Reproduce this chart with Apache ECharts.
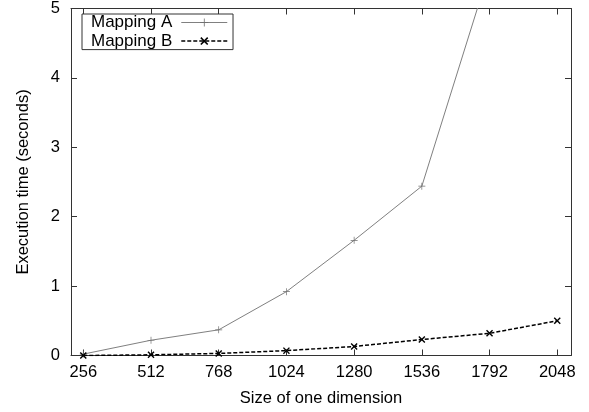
<!DOCTYPE html>
<html>
<head>
<meta charset="utf-8">
<script src="https://cdn.jsdelivr.net/npm/echarts@6/dist/echarts.min.js"></script>
<style>
html,body{margin:0;padding:0;background:#fff;}
#c{width:589px;height:412px;}
</style>
</head>
<body>
<div id="c"></div>
<script>
const sizes = [256, 512, 768, 1024, 1280, 1536, 1792, 2048];
const mappingA = [0.02, 0.22, 0.37, 0.92, 1.66, 2.44, 5.56];
const mappingB = [0.00, 0.01, 0.03, 0.07, 0.13, 0.23, 0.32, 0.50];
const yTicks = [0, 1, 2, 3, 4, 5];

const FONT = 'Liberation Sans, Arial, Helvetica, sans-serif';
const plusPath = 'path://M4.5,0 L5.5,0 L5.5,4.5 L10,4.5 L10,5.5 L5.5,5.5 L5.5,10 L4.5,10 L4.5,5.5 L0,5.5 L0,4.5 L4.5,4.5 Z';
const crossPath = 'path://M0,1.4 L1.4,0 L5,3.6 L8.6,0 L10,1.4 L6.4,5 L10,8.6 L8.6,10 L5,6.4 L1.4,10 L0,8.6 L3.6,5 Z';

const chart = echarts.init(document.getElementById('c'), null, {renderer: 'canvas'});
const frame = '#333';
const tickStyle = {show: true, inside: true, length: 6, lineStyle: {color: frame, width: 1}};
chart.setOption({
  animation: false,
  backgroundColor: '#fff',
  grid: {left: 71, right: 18, top: 8.5, bottom: 56.5, show: false},
  legend: {
    left: 82, top: 14, orient: 'vertical', align: 'right',
    padding: [0, 5, 0, 9], itemGap: 1.6, itemWidth: 46, itemHeight: 10,
    borderColor: frame, borderWidth: 1, backgroundColor: '#fff',
    textStyle: {fontFamily: FONT, fontSize: 17, color: '#000', lineHeight: 16, padding: [0, 4, 0, 0]},
    data: [
      {name: 'Mapping A', lineStyle: {width: 1, color: '#808080'}},
      {name: 'Mapping B', lineStyle: {width: 1.5, color: '#000', type: [4, 2]}}
    ]
  },
  xAxis: [{
    type: 'value', min: 209.5, max: 2100, position: 'bottom',
    name: 'Size of one dimension', nameLocation: 'middle', nameGap: 34,
    nameTextStyle: {fontFamily: FONT, fontSize: 16.5, color: '#000'},
    axisLine: {show: true, onZero: false, lineStyle: {color: frame, width: 1}},
    axisTick: Object.assign({customValues: sizes}, tickStyle),
    axisLabel: {customValues: sizes, formatter: v => String(v), fontFamily: FONT, fontSize: 16.5, color: '#000', margin: 8},
    splitLine: {show: false}
  }, {
    type: 'value', min: 209.5, max: 2100, position: 'top',
    axisLine: {show: true, onZero: false, lineStyle: {color: frame, width: 1}},
    axisTick: Object.assign({customValues: sizes}, tickStyle),
    axisLabel: {show: false, customValues: sizes},
    splitLine: {show: false}
  }],
  yAxis: [{
    type: 'value', min: 0, max: 5, interval: 1, position: 'left',
    name: 'Execution time (seconds)', nameLocation: 'middle', nameGap: 39,
    nameTextStyle: {fontFamily: FONT, fontSize: 16.5, color: '#000'},
    axisLine: {show: true, onZero: false, lineStyle: {color: frame, width: 1}},
    axisTick: tickStyle,
    axisLabel: {fontFamily: FONT, fontSize: 16.5, color: '#000', margin: 11},
    splitLine: {show: false}
  }, {
    type: 'value', min: 0, max: 5, interval: 1, position: 'right',
    axisLine: {show: true, onZero: false, lineStyle: {color: frame, width: 1}},
    axisTick: tickStyle,
    axisLabel: {show: false},
    splitLine: {show: false}
  }],
  series: [{
    name: 'Mapping A', type: 'line', xAxisIndex: 0, yAxisIndex: 0,
    data: mappingA.map((v, i) => [sizes[i], v]),
    symbol: plusPath, symbolSize: 7, clip: true,
    lineStyle: {color: '#808080', width: 1},
    itemStyle: {color: '#707070'}
  }, {
    name: 'Mapping B', type: 'line', xAxisIndex: 0, yAxisIndex: 0,
    data: mappingB.map((v, i) => [sizes[i], v]),
    symbol: crossPath, symbolSize: 7, clip: true,
    lineStyle: {color: '#000', width: 1.5, type: [4, 2]},
    itemStyle: {color: '#000'}
  }]
});
</script>
</body>
</html>
